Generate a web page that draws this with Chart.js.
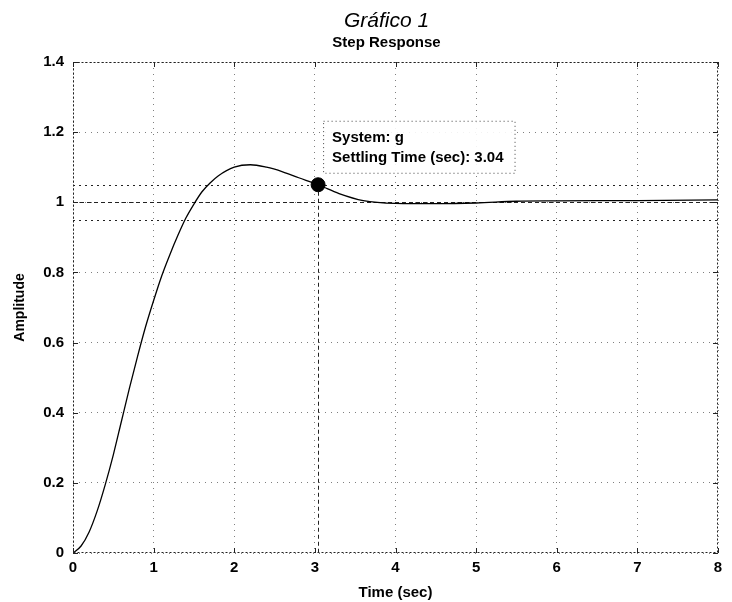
<!DOCTYPE html>
<html>
<head>
<meta charset="utf-8">
<script src="https://cdn.jsdelivr.net/npm/chart.js@4"></script>
<style>
  body { margin: 0; background: #fff; }
</style>
</head>
<body>
<canvas id="myChart" width="732" height="602"></canvas>
<script>
const timeSec   = [0, 0.1, 0.2, 0.3, 0.4, 0.5, 0.6, 0.7, 0.8, 0.9, 1.0, 1.1, 1.2, 1.3, 1.4, 1.5, 1.6, 1.7, 1.8, 2.0, 2.2, 2.4, 2.6, 2.8, 3.04, 3.3, 3.6, 4.0, 4.5, 5.0, 5.5, 6.0, 7.0, 8.0];
const amplitude = [0, 0.02, 0.06, 0.12, 0.195, 0.28, 0.375, 0.47, 0.56, 0.645, 0.72, 0.79, 0.85, 0.905, 0.955, 0.995, 1.03, 1.055, 1.075, 1.1, 1.107, 1.1, 1.087, 1.07, 1.05, 1.025, 1.005, 0.997, 0.996, 0.998, 1.003, 1.004, 1.005, 1.007];

const settlingTime  = [3.04];
const settlingValue = [1.05];
const settlingBand  = [0.95, 1.05];
const finalValue    = 1;

const xTicks = [0, 1, 2, 3, 4, 5, 6, 7, 8];
const yTicks = [0, 0.2, 0.4, 0.6, 0.8, 1, 1.2, 1.4];

const infoLines = ['System: g', 'Settling Time (sec): ' + settlingTime[0].toFixed(2)];

Chart.defaults.font.family = '"Liberation Sans", Arial, sans-serif';
Chart.defaults.color = '#000';

const data = {
  datasets: [{
    label: 'g',
    data: timeSec.map((t, i) => ({ x: t, y: amplitude[i] })),
    borderColor: '#000',
    borderWidth: 1.3,
    pointRadius: 0,
    cubicInterpolationMode: 'monotone',
    order: 2
  }, {
    label: 'settling',
    data: settlingTime.map((t, i) => ({ x: t, y: settlingValue[i] })),
    showLine: false,
    pointRadius: 7,
    pointBackgroundColor: '#000',
    pointBorderColor: '#000',
    order: 1
  }]
};

// settling band, final value, marker guide
const refLines = {
  id: 'refLines',
  beforeDatasetsDraw(chart) {
    const { ctx, chartArea: a, scales: { x, y } } = chart;
    ctx.save();
    ctx.strokeStyle = '#222';
    ctx.lineWidth = 1;
    ctx.setLineDash([2, 4]);
    settlingBand.forEach(v => {
      const py = Math.round(y.getPixelForValue(v)) + 0.5;
      ctx.beginPath(); ctx.moveTo(a.left, py); ctx.lineTo(a.right, py); ctx.stroke();
    });
    ctx.setLineDash([4, 3]);
    const fy = Math.round(y.getPixelForValue(finalValue)) + 0.5;
    ctx.beginPath(); ctx.moveTo(a.left, fy); ctx.lineTo(a.right, fy); ctx.stroke();
    const mx = Math.round(x.getPixelForValue(settlingTime[0])) + 0.5;
    ctx.beginPath(); ctx.moveTo(mx, y.getPixelForValue(settlingValue[0])); ctx.lineTo(mx, a.bottom); ctx.stroke();
    ctx.restore();
  },
  afterDatasetsDraw(chart) {
    const { ctx, chartArea: a, scales: { x, y } } = chart;
    ctx.save();
    ctx.strokeStyle = '#222';
    ctx.lineWidth = 1;
    ctx.setLineDash([2, 2]);
    ctx.strokeRect(a.left + 0.5, a.top + 0.5, a.right - a.left - 1, a.bottom - a.top - 1);
    // inward ticks
    ctx.setLineDash([]);
    ctx.beginPath();
    xTicks.forEach(v => {
      const px = Math.round(x.getPixelForValue(v)) + 0.5;
      ctx.moveTo(px, a.bottom); ctx.lineTo(px, a.bottom - 5);
      ctx.moveTo(px, a.top); ctx.lineTo(px, a.top + 5);
    });
    yTicks.forEach(v => {
      const py = Math.round(y.getPixelForValue(v)) + 0.5;
      ctx.moveTo(a.left, py); ctx.lineTo(a.left + 5, py);
      ctx.moveTo(a.right, py); ctx.lineTo(a.right - 5, py);
    });
    ctx.stroke();
    ctx.restore();
  }
};

// titles and the data tip box
const labels = {
  id: 'labels',
  afterDraw(chart) {
    const { ctx, chartArea: a, scales: { x, y } } = chart;
    ctx.save();
    const cx = (a.left + a.right) / 2 - 9;
    ctx.textAlign = 'center';
    ctx.textBaseline = 'alphabetic';
    ctx.fillStyle = '#000';
    ctx.font = 'italic 21px "Liberation Sans", Arial, sans-serif';
    ctx.fillText('Gráfico 1', cx, 27);
    ctx.font = 'bold 15px "Liberation Sans", Arial, sans-serif';
    ctx.fillText('Step Response', cx, 47);

    const mx = x.getPixelForValue(settlingTime[0]);
    const my = y.getPixelForValue(settlingValue[0]);
    ctx.font = 'bold 15px "Liberation Sans", Arial, sans-serif';
    const w = Math.max(...infoLines.map(s => ctx.measureText(s).width));
    const bx = mx + 5, by = my - 64, bw = w + 20, bh = 52;
    ctx.fillStyle = 'rgba(255,255,255,0.9)';
    ctx.fillRect(bx, by, bw, bh);
    ctx.strokeStyle = '#444';
    ctx.setLineDash([1, 3]);
    ctx.strokeRect(bx + 0.5, by + 0.5, bw, bh);
    ctx.fillStyle = '#000';
    ctx.textAlign = 'left';
    ctx.fillText(infoLines[0], mx + 14, my - 43);
    ctx.fillText(infoLines[1], mx + 14, my - 23);
    ctx.restore();
  }
};

const config = {
  type: 'line',
  data,
  options: {
    responsive: false,
    animation: false,
    devicePixelRatio: 1,
    layout: { padding: { top: 62, right: 14, left: 0, bottom: 0 } },
    plugins: {
      legend: { display: false },
      tooltip: { enabled: false }
    },
    scales: {
      x: {
        type: 'linear',
        min: 0, max: 8,
        afterFit: s => { s.height = 49; },
        afterBuildTicks: s => { s.ticks = xTicks.map(v => ({ value: v })); },
        ticks: { padding: 6, font: { size: 15, weight: 'bold' } },
        grid: { color: 'rgba(0,0,0,0.5)', drawTicks: false },
        border: { display: false, dash: [1, 5] },
        title: { display: true, text: 'Time (sec)', font: { size: 15, weight: 'bold' }, padding: { top: 0, bottom: 0 } }
      },
      y: {
        min: 0, max: 1.4,
        afterFit: s => { s.width = 73; },
        afterBuildTicks: s => { s.ticks = yTicks.map(v => ({ value: v })); },
        ticks: { padding: 9, font: { size: 15, weight: 'bold' }, callback: v => String(+v.toFixed(1)) },
        grid: { color: 'rgba(0,0,0,0.5)', drawTicks: false },
        border: { display: false, dash: [1, 5] },
        title: { display: true, text: 'Amplitude', font: { size: 14, weight: 'bold' }, padding: { top: 12, bottom: 0 } }
      }
    }
  },
  plugins: [refLines, labels]
};

const myChart = new Chart(document.getElementById('myChart'), config);
</script>
</body>
</html>
